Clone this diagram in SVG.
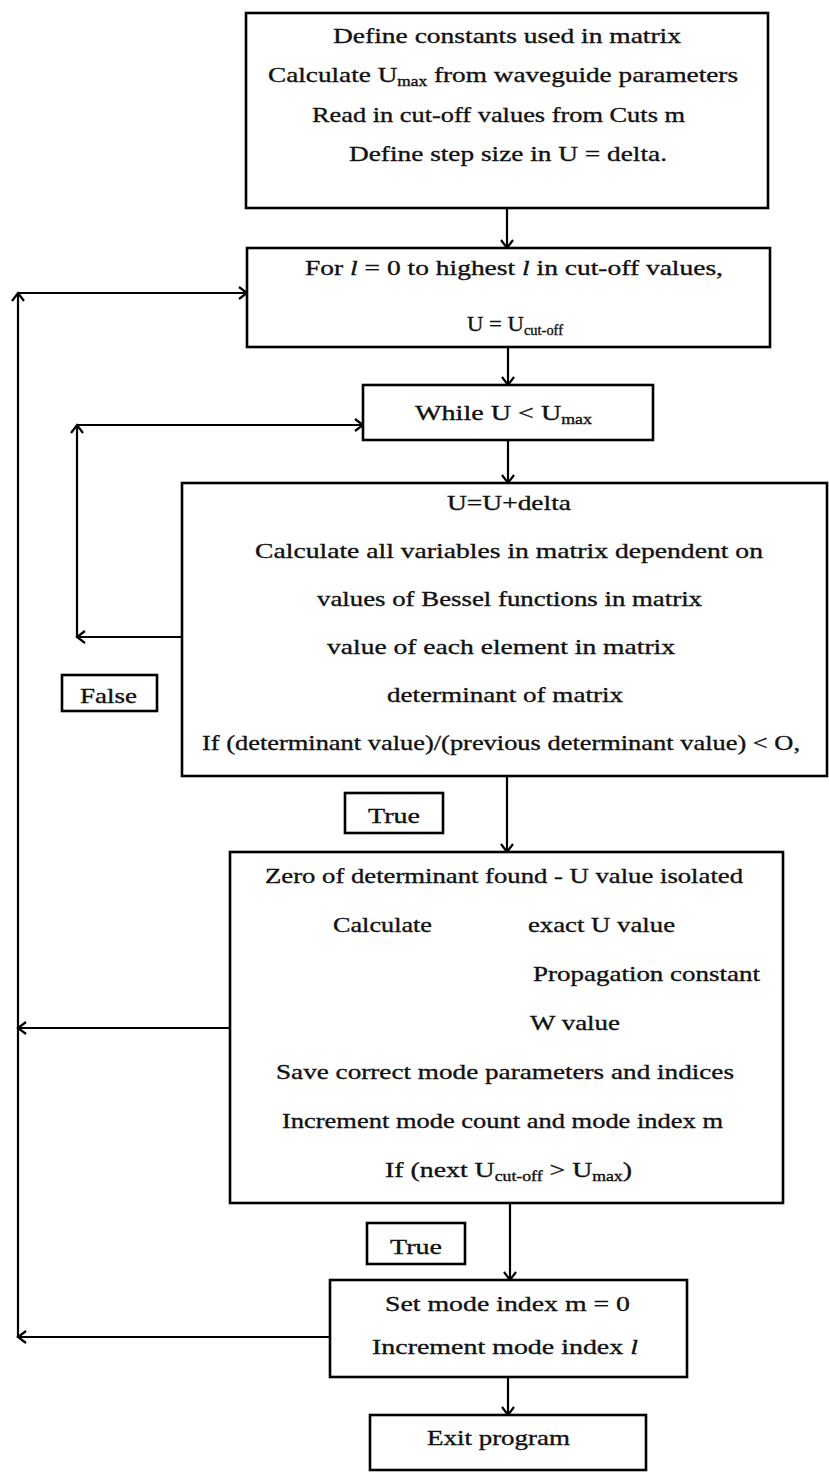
<svg xmlns="http://www.w3.org/2000/svg" width="829" height="1472" viewBox="0 0 829 1472">
  <defs>
    <style>
      .box { fill: #fff; stroke: #000; stroke-width: 2.6; }
      .tag { fill: #fff; stroke: #000; stroke-width: 2.6; }
      .wire { fill: none; stroke: #000; stroke-width: 2.2; }
      .arrow { marker-end: url(#head); }
      text { font-family: "Liberation Serif", "Times New Roman", serif; font-size: 22px; fill: #111; stroke: #111; stroke-width: 0.35; }
      .sub { font-size: 14px; }
      .it { font-style: italic; }
    </style>
    <marker id="head" markerWidth="14" markerHeight="14" refX="11" refY="7" orient="auto" markerUnits="userSpaceOnUse">
      <path d="M3,1 L11,7 L3,13" fill="none" stroke="#000" stroke-width="2.2"/>
    </marker>
  </defs>

  <rect width="829" height="1472" fill="#fff"/>

  <!-- connectors -->
  <g id="connectors">
    <line class="wire arrow" x1="507" y1="208" x2="507" y2="248"/>
    <line class="wire arrow" x1="508" y1="347" x2="508" y2="385"/>
    <line class="wire arrow" x1="508" y1="440" x2="508" y2="483"/>
    <line class="wire arrow" x1="507" y1="776" x2="507" y2="852"/>
    <line class="wire arrow" x1="510" y1="1203" x2="510" y2="1280"/>
    <line class="wire arrow" x1="508" y1="1377" x2="508" y2="1415"/>
    <!-- inner loop: back to the while test -->
    <line class="wire arrow" x1="182" y1="637" x2="77" y2="637"/>
    <line class="wire arrow" x1="77" y1="637" x2="77" y2="425"/>
    <line class="wire arrow" x1="77" y1="425" x2="363" y2="425"/>
    <!-- outer loop: back to the for statement -->
    <line class="wire arrow" x1="230" y1="1028" x2="18" y2="1028"/>
    <line class="wire arrow" x1="330" y1="1337" x2="18" y2="1337"/>
    <line class="wire arrow" x1="18" y1="1337" x2="18" y2="293"/>
    <line class="wire arrow" x1="18" y1="293" x2="247" y2="293"/>
  </g>

  <g id="init">
    <rect class="box" x="246" y="13" width="522" height="195"/>
    <text x="333" y="43" textLength="348" lengthAdjust="spacingAndGlyphs">Define constants used in matrix</text>
    <text x="268" y="82" textLength="470" lengthAdjust="spacingAndGlyphs">Calculate U<tspan class="sub" dy="4">max</tspan><tspan dy="-4"> from waveguide parameters</tspan></text>
    <text x="312" y="122" textLength="373" lengthAdjust="spacingAndGlyphs">Read in cut-off values from Cuts m</text>
    <text x="349" y="161" textLength="318" lengthAdjust="spacingAndGlyphs">Define step size in U = delta.</text>
  </g>

  <g id="for-l">
    <rect class="box" x="247" y="248" width="523" height="99"/>
    <text x="305" y="275" textLength="418" lengthAdjust="spacingAndGlyphs">For <tspan class="it">l</tspan> = 0 to highest <tspan class="it">l</tspan> in cut-off values,</text>
    <text x="467" y="331" textLength="96" lengthAdjust="spacingAndGlyphs">U = U<tspan class="sub" dy="4">cut-off</tspan></text>
  </g>

  <g id="while-u">
    <rect class="box" x="363" y="385" width="290" height="55"/>
    <text x="415" y="420" textLength="177" lengthAdjust="spacingAndGlyphs">While U &lt; U<tspan class="sub" dy="4">max</tspan></text>
  </g>

  <g id="step">
    <rect class="box" x="182" y="483" width="645" height="293"/>
    <text x="447" y="510" textLength="124" lengthAdjust="spacingAndGlyphs">U=U+delta</text>
    <text x="255" y="558" textLength="508" lengthAdjust="spacingAndGlyphs">Calculate  all variables in matrix dependent on</text>
    <text x="317" y="606" textLength="385" lengthAdjust="spacingAndGlyphs">values of Bessel functions in matrix</text>
    <text x="327" y="654" textLength="348" lengthAdjust="spacingAndGlyphs">value of each element in matrix</text>
    <text x="387" y="702" textLength="236" lengthAdjust="spacingAndGlyphs">determinant of matrix</text>
    <text x="202" y="750" textLength="598" lengthAdjust="spacingAndGlyphs">If (determinant value)/(previous determinant value) &lt; O,</text>
  </g>

  <g id="label-false">
    <rect class="tag" x="62" y="675" width="95" height="36"/>
    <text x="80" y="703" textLength="57" lengthAdjust="spacingAndGlyphs">False</text>
  </g>

  <g id="label-true-1">
    <rect class="tag" x="345" y="793" width="98" height="40"/>
    <text x="368" y="823" textLength="52" lengthAdjust="spacingAndGlyphs">True</text>
  </g>

  <g id="zero-found">
    <rect class="box" x="230" y="852" width="553" height="351"/>
    <text x="265" y="883" textLength="478" lengthAdjust="spacingAndGlyphs">Zero of determinant found - U value isolated</text>
    <text x="333" y="932" textLength="99" lengthAdjust="spacingAndGlyphs">Calculate</text>
    <text x="528" y="932" textLength="147" lengthAdjust="spacingAndGlyphs">exact U value</text>
    <text x="533" y="981" textLength="227" lengthAdjust="spacingAndGlyphs">Propagation constant</text>
    <text x="530" y="1030" textLength="90" lengthAdjust="spacingAndGlyphs">W value</text>
    <text x="276" y="1079" textLength="458" lengthAdjust="spacingAndGlyphs">Save correct mode parameters and indices</text>
    <text x="282" y="1128" textLength="441" lengthAdjust="spacingAndGlyphs">Increment mode count and mode index m</text>
    <text x="385" y="1177" textLength="247" lengthAdjust="spacingAndGlyphs">If (next U<tspan class="sub" dy="4">cut-off</tspan><tspan dy="-4">  &gt; U</tspan><tspan class="sub" dy="4">max</tspan><tspan dy="-4">)</tspan></text>
  </g>

  <g id="label-true-2">
    <rect class="tag" x="367" y="1223" width="98" height="41"/>
    <text x="390" y="1254" textLength="52" lengthAdjust="spacingAndGlyphs">True</text>
  </g>

  <g id="next-l">
    <rect class="box" x="330" y="1280" width="357" height="97"/>
    <text x="385" y="1311" textLength="245" lengthAdjust="spacingAndGlyphs">Set mode index m = 0</text>
    <text x="372" y="1354" textLength="266" lengthAdjust="spacingAndGlyphs">Increment mode index <tspan class="it">l</tspan></text>
  </g>

  <g id="exit">
    <rect class="box" x="370" y="1415" width="276" height="55"/>
    <text x="427" y="1445" textLength="143" lengthAdjust="spacingAndGlyphs">Exit program</text>
  </g>
</svg>
